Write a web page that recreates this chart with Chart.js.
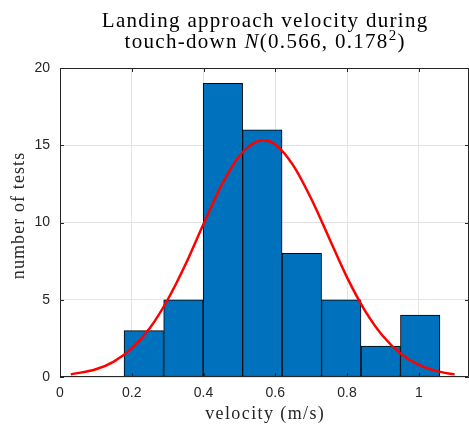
<!DOCTYPE html>
<html>
<head>
<meta charset="utf-8">
<script src="https://cdn.jsdelivr.net/npm/chart.js@4.4.1/dist/chart.umd.min.js"></script>
<style>
  html, body { margin: 0; padding: 0; background: #fff; }
  #wrap { width: 469px; height: 430px; }
</style>
</head>
<body>
<div id="wrap"><canvas id="c" width="469" height="430"></canvas></div>
<script>
// ---- data ----
const titleLine1 = 'Landing approach velocity during';
const titleLine2 = ['touch-down ', 'N', '(0.566, 0.178', '2', ')'];
const xLabel = 'velocity (m/s)';
const yLabel = 'number of tests';
const binEdges = [0.178, 0.289, 0.399, 0.509, 0.619, 0.729, 0.839, 0.949, 1.059];
const counts = [3, 5, 19, 16, 8, 5, 2, 4];
const fitX = [0.03, 0.10, 0.15, 0.20, 0.25, 0.30, 0.35, 0.40, 0.45, 0.50, 0.55, 0.566, 0.60, 0.65, 0.70, 0.75, 0.80, 0.85, 0.90, 0.95, 1.00, 1.05, 1.10];
const fitY = [0.17, 0.50, 1.00, 1.85, 3.15, 5.00, 7.30, 9.90, 12.40, 14.30, 15.25, 15.30, 15.05, 13.70, 11.55, 9.00, 6.45, 4.30, 2.65, 1.50, 0.78, 0.38, 0.17];
const xRange = [0, 1.14];
const yRange = [0, 20];
const xStep = 0.2;
const yStep = 5;

const barData = counts.map((c, i) => ({ x: (binEdges[i] + binEdges[i + 1]) / 2, y: c }));
const lineData = fitX.map((x, i) => ({ x: x, y: fitY[i] }));

const AXIS = '#262626';
const tickFont = { family: '"Liberation Sans", Arial, sans-serif', size: 14 };
const SERIF = '"Liberation Serif", "Times New Roman", serif';

// draw a sequence of styled runs centred on cx
function drawRuns(ctx, runs, cx, baseline, spacing) {
  ctx.letterSpacing = spacing + 'px';
  let total = 0;
  const widths = runs.map(r => { ctx.font = r.font; const w = ctx.measureText(r.text).width; total += w; return w; });
  total -= spacing;
  let x = cx - total / 2;
  ctx.textAlign = 'left';
  ctx.textBaseline = 'alphabetic';
  runs.forEach((r, i) => {
    ctx.font = r.font;
    ctx.fillText(r.text, x, baseline - (r.dy || 0));
    x += widths[i];
  });
  ctx.letterSpacing = '0px';
}

const textPlugin = {
  id: 'texts',
  afterDraw(chart) {
    const { ctx, chartArea: a } = chart;
    const cx = (a.left + a.right) / 2;
    ctx.save();
    ctx.fillStyle = '#000';
    const f = '21px ' + SERIF;
    drawRuns(ctx, [{ text: titleLine1, font: f }], cx, 27, 1.3);
    drawRuns(ctx, [
      { text: titleLine2[0], font: f },
      { text: titleLine2[1], font: 'italic ' + f },
      { text: titleLine2[2], font: f },
      { text: titleLine2[3], font: '15px ' + SERIF, dy: 8 },
      { text: titleLine2[4], font: f }
    ], cx, 48, 1.3);
    ctx.fillStyle = AXIS;
    drawRuns(ctx, [{ text: xLabel, font: '18px ' + SERIF }], cx, 419, 1.4);
    ctx.translate(24, 216);
    ctx.rotate(-Math.PI / 2);
    drawRuns(ctx, [{ text: yLabel, font: '18px ' + SERIF }], 0, 0, 1.1);
    ctx.restore();
  }
};

const framePlugin = {
  id: 'frame',
  afterDatasetsDraw(chart) {
    const { ctx, chartArea: a, scales } = chart;
    ctx.save();
    ctx.strokeStyle = AXIS;
    ctx.lineWidth = 1;
    ctx.beginPath();
    ctx.moveTo(a.left + 0.5, a.top + 0.5);
    ctx.lineTo(a.right - 0.5, a.top + 0.5);
    ctx.lineTo(a.right - 0.5, a.bottom - 0.5);
    ctx.lineTo(a.left + 0.5, a.bottom - 0.5);
    ctx.closePath();
    ctx.stroke();
    const L = 4;
    ctx.beginPath();
    scales.x.ticks.forEach(t => {
      const px = Math.round(scales.x.getPixelForValue(t.value)) + 0.5;
      ctx.moveTo(px, a.bottom); ctx.lineTo(px, a.bottom - L);
      ctx.moveTo(px, a.top); ctx.lineTo(px, a.top + L);
    });
    scales.y.ticks.forEach(t => {
      const py = Math.round(scales.y.getPixelForValue(t.value)) + 0.5;
      ctx.moveTo(a.left, py); ctx.lineTo(a.left + L, py);
      ctx.moveTo(a.right, py); ctx.lineTo(a.right - L, py);
    });
    ctx.stroke();
    ctx.restore();
  }
};

new Chart(document.getElementById('c'), {
  type: 'bar',
  data: {
    datasets: [
      {
        type: 'line',
        data: lineData,
        borderColor: '#FF0000',
        borderWidth: 2.5,
        pointRadius: 0,
        fill: false,
        cubicInterpolationMode: 'monotone',
        order: 0
      },
      {
        type: 'bar',
        data: barData,
        backgroundColor: '#0072BD',
        borderColor: '#000000',
        borderWidth: 1,
        borderSkipped: false,
        barPercentage: 1,
        categoryPercentage: 1,
        order: 1
      }
    ]
  },
  options: {
    responsive: false,
    animation: false,
    layout: { padding: { left: 0, right: 0, top: 68, bottom: 0 } },
    plugins: {
      legend: { display: false },
      tooltip: { enabled: false },
      title: { display: false }
    },
    scales: {
      x: {
        type: 'linear',
        min: xRange[0],
        max: xRange[1],
        offset: false,
        grid: { color: '#e3e3e3', offset: false, drawTicks: false },
        border: { display: false },
        ticks: {
          stepSize: xStep,
          includeBounds: false,
          color: AXIS,
          font: tickFont,
          padding: 8,
          maxRotation: 0,
          callback: v => String(Math.round(v * 10) / 10)
        },
        title: { display: false },
        afterFit(scale) { scale.height = 53; }
      },
      y: {
        min: yRange[0],
        max: yRange[1],
        grid: { color: '#e3e3e3', drawTicks: false },
        border: { display: false },
        ticks: {
          stepSize: yStep,
          color: AXIS,
          font: tickFont,
          padding: 10
        },
        title: { display: false },
        afterFit(scale) { scale.width = 60; }
      }
    }
  },
  plugins: [framePlugin, textPlugin]
});
</script>
</body>
</html>
